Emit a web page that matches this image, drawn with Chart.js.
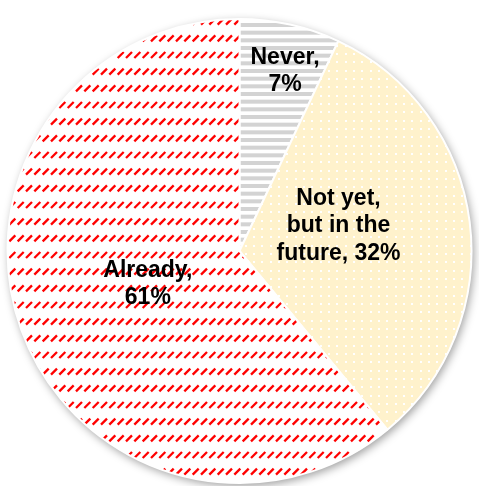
<!DOCTYPE html>
<html lang="en">
<head>
    <meta charset="UTF-8">
    <title>Pie</title>
    <script src="https://cdn.jsdelivr.net/npm/chart.js"></script>
    <style>
        body {
            margin: 0;
            padding: 0;
            background-color: #fff;
        }

        canvas {
            display: block;
        }
    </style>
</head>
<body>
    <canvas id="pie-chart" width="479" height="486"></canvas>

    <script>
        // Slices, clockwise from twelve o'clock
        const categories = ['Never', 'Not yet, but in the future', 'Already'];
        const shares = [7, 32, 61];
        const labelLines = [
            ['Never,', '7%'],
            ['Not yet,', 'but in the', 'future, 32%'],
            ['Already,', '61%']
        ];

        // Where each label sits: fraction of the radius and angle (deg) from the top
        const labelPlacement = [
            { r: 0.80, angle: 14.2 },
            { r: 0.44, angle: 75.9 },
            { r: 0.42, angle: 250.2 }
        ];

        // Small canvas tiles used as fill patterns
        function makeTile(w, h, draw) {
            const c = document.createElement('canvas');
            c.width = w;
            c.height = h;
            draw(c.getContext('2d'));
            return c.getContext('2d').createPattern(c, 'repeat');
        }

        // grey horizontal stripes
        const stripePattern = makeTile(4, 23, function (g) {
            g.fillStyle = '#ffffff';
            g.fillRect(0, 0, 4, 23);
            g.fillStyle = '#d3d3d3';
            for (let i = 0; i < 3; i++) {
                g.fillRect(0, i * 23 / 3, 4, 4);
            }
        });

        // white dots on pale yellow
        const dotPattern = makeTile(25, 25, function (g) {
            g.fillStyle = '#fff2cc';
            g.fillRect(0, 0, 25, 25);
            g.fillStyle = '#ffffff';
            for (let i = 0; i < 3; i++) {
                for (let j = 0; j < 3; j++) {
                    g.fillRect(Math.round(i * 25 / 3) + 3, Math.round(j * 25 / 3) + 3, 2, 2);
                }
            }
        });

        // short red upward dashes on white
        const dashPattern = makeTile(25, 50, function (g) {
            g.fillStyle = '#ffffff';
            g.fillRect(0, 0, 25, 50);
            g.strokeStyle = '#ff0000';
            g.lineWidth = 2.3;
            g.lineCap = 'butt';
            for (let i = 0; i < 3; i++) {
                for (let j = 0; j < 3; j++) {
                    const x = i * 25 / 3 + 1;
                    const y = j * 50 / 3 + 2;
                    g.beginPath();
                    g.moveTo(x, y + 6);
                    g.lineTo(x + 6, y);
                    g.stroke();
                }
            }
        });

        // Soft shadow under the whole pie
        const shadowPlugin = {
            id: 'pieShadow',
            beforeDatasetsDraw(chart) {
                const arc = chart.getDatasetMeta(0).data[0];
                if (!arc) return;
                const ctx = chart.ctx;
                ctx.save();
                ctx.shadowColor = 'rgba(0, 0, 0, 0.4)';
                ctx.shadowBlur = 10;
                ctx.shadowOffsetX = 2;
                ctx.shadowOffsetY = 3;
                ctx.fillStyle = '#ffffff';
                ctx.beginPath();
                ctx.arc(arc.x, arc.y, arc.outerRadius, 0, Math.PI * 2);
                ctx.fill();
                ctx.restore();
            }
        };

        // Category + percentage written inside each slice
        const labelPlugin = {
            id: 'sliceLabels',
            afterDatasetsDraw(chart) {
                const arcs = chart.getDatasetMeta(0).data;
                const ctx = chart.ctx;
                const lineHeight = 27.5;
                ctx.save();
                ctx.font = 'bold 23px "Liberation Sans", Arial, sans-serif';
                ctx.fillStyle = '#000000';
                ctx.textAlign = 'center';
                ctx.textBaseline = 'middle';
                arcs.forEach(function (arc, i) {
                    const p = labelPlacement[i];
                    const a = p.angle * Math.PI / 180;
                    const cx = arc.x + Math.sin(a) * arc.outerRadius * p.r;
                    const cy = arc.y - Math.cos(a) * arc.outerRadius * p.r;
                    const lines = labelLines[i];
                    const top = cy - (lines.length - 1) * lineHeight / 2;
                    lines.forEach(function (line, k) {
                        ctx.fillText(line, cx, top + k * lineHeight);
                    });
                });
                ctx.restore();
            }
        };

        new Chart(document.getElementById('pie-chart'), {
            type: 'pie',
            data: {
                labels: categories,
                datasets: [{
                    data: shares,
                    backgroundColor: [stripePattern, dotPattern, dashPattern],
                    borderColor: '#ffffff',
                    borderWidth: 2
                }]
            },
            options: {
                responsive: false,
                animation: false,
                devicePixelRatio: 1,
                layout: {
                    padding: { top: 18, bottom: 2, left: 6, right: 6 }
                },
                plugins: {
                    legend: { display: false },
                    tooltip: { enabled: false }
                }
            },
            plugins: [shadowPlugin, labelPlugin]
        });
    </script>
</body>
</html>
